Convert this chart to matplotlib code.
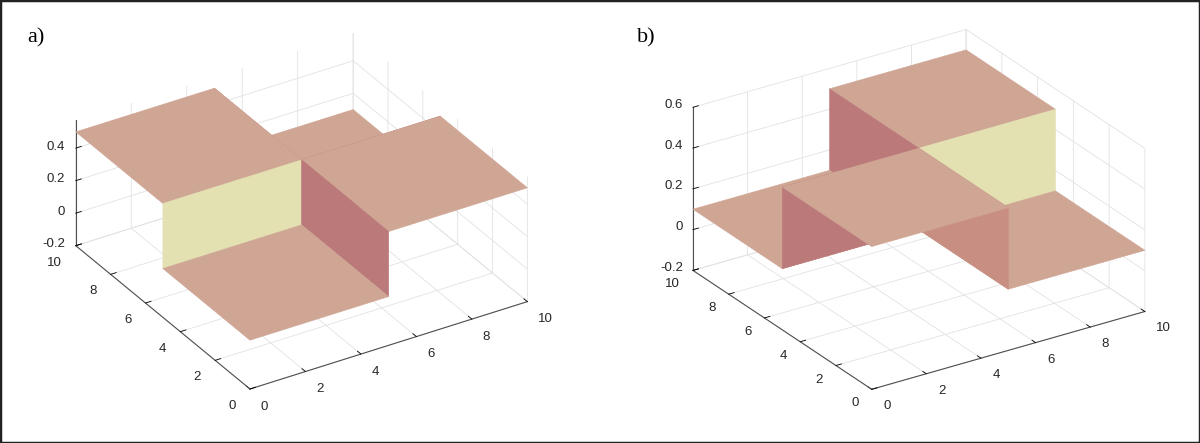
import numpy as np
import matplotlib
matplotlib.use('Agg')
import matplotlib.pyplot as plt
from matplotlib.colors import to_rgba
from matplotlib.patches import Rectangle
from mpl_toolkits.mplot3d import proj3d

# grid edges (5 is doubled so the steps become vertical walls)
x_edges = [0, 5, 5, 10]
y_edges = [0, 5, 5, 10]
# rows follow y_edges, columns follow x_edges
z_a = [[0.1, 0.1, 0.5, 0.5],
       [0.1, 0.1, 0.5, 0.5],
       [0.5, 0.5, 0.1, 0.1],
       [0.5, 0.5, 0.1, 0.1]]
z_b = [[0.5, 0.5, 0.1, 0.1],
       [0.5, 0.5, 0.1, 0.1],
       [0.1, 0.1, 0.5, 0.5],
       [0.1, 0.1, 0.5, 0.5]]
xy_ticks = [0, 2, 4, 6, 8, 10]
zticks_a = [-0.2, 0, 0.2, 0.4]
zticks_b = [-0.2, 0, 0.2, 0.4, 0.6]
zlim_a = (-0.2, 0.57)
zlim_b = (-0.2, 0.6)

FLAT = '#cfa594'
YELLOW = '#e3e0b1'
RED = '#bc797a'
DARK = '#c88e82'

W, H = 1200, 443
plt.rcParams['font.family'] = ['Liberation Sans', 'DejaVu Sans']
plt.rcParams['font.size'] = 9.5
plt.rcParams['grid.color'] = '#e2e2e2'
plt.rcParams['grid.linewidth'] = 0.6
plt.rcParams['xtick.major.width'] = 0.6
plt.rcParams['ytick.major.width'] = 0.6

fig = plt.figure(figsize=(W / 100, H / 100), dpi=100)


def face_colors(X, Y, Z):
    n, m = Z.shape
    fc = np.zeros((n, m, 4))
    for i in range(n - 1):
        for j in range(m - 1):
            dx = X[i, j + 1] - X[i, j]
            dy = Y[i + 1, j] - Y[i, j]
            if dx == 0 and dy == 0:
                c = (0, 0, 0, 0)
            elif dy == 0:
                rise = Z[i + 1, j:j + 2].mean() - Z[i, j:j + 2].mean()
                c = to_rgba(YELLOW if rise > 0 else RED)
            elif dx == 0:
                rise = Z[i:i + 2, j + 1].mean() - Z[i:i + 2, j].mean()
                c = to_rgba(RED if rise > 0 else DARK)
            else:
                c = to_rgba(FLAT)
            fc[i, j] = c
    return fc


def screen(ax, x, y, z):
    xs, ys, _ = proj3d.proj_transform(x, y, z, ax.get_proj())
    return np.array(ax.transData.transform((xs, ys)))


def fit(ax, aspect, target):
    # scale and move the box so its floor corners land on the target pixels
    zmin = ax.get_zlim()[0]
    t = [np.array([tx, H - ty]) for tx, ty in target]
    zoom = 1.0
    for _ in range(3):
        ax.set_box_aspect(aspect, zoom=zoom)
        fig.canvas.draw()
        o = screen(ax, 0, 0, zmin)
        px = screen(ax, 10, 0, zmin)
        py = screen(ax, 0, 10, zmin)
        cur = np.linalg.norm(px - o) + np.linalg.norm(py - o)
        want = np.linalg.norm(t[1] - t[0]) + np.linalg.norm(t[2] - t[0])
        zoom *= want / cur
    ax.set_box_aspect(aspect, zoom=zoom)
    fig.canvas.draw()
    o = screen(ax, 0, 0, zmin)
    shift = (t[0] - o) / np.array([W, H])
    pos = ax.get_position(original=True)
    ax.set_position([pos.x0 + shift[0], pos.y0 + shift[1], pos.width, pos.height])
    fig.canvas.draw()


def put(ax, pt, txt, off, ha):
    p = screen(ax, *pt)
    fig.text((p[0] + off[0]) / W, (p[1] - off[1]) / H, txt, ha=ha, va='center',
             fontsize=9.5, color='#262626')


def panel(rect, Zdata, zlim, zticks, elev, azim, aspect, target, label, lx, offs):
    ax = fig.add_axes(rect, projection='3d')
    ax.set_facecolor('none')
    X, Y = np.meshgrid(x_edges, y_edges)
    Z = np.array(Zdata)
    fc = face_colors(X, Y, Z)
    edge = [fc[i, j] for i in range(Z.shape[0] - 1) for j in range(Z.shape[1] - 1)]
    surf = ax.plot_surface(X, Y, Z, facecolors=fc, shade=False, linewidth=0.4,
                           antialiased=True)
    surf.set_edgecolor(edge)
    surf.set_clip_on(False)
    ax.set_proj_type('ortho')
    ax.view_init(elev=elev, azim=azim)
    ax.set_xlim(0, 10)
    ax.set_ylim(0, 10)
    ax.set_zlim(*zlim)
    ax.set_xticks(xy_ticks)
    ax.set_yticks(xy_ticks)
    ax.set_zticks(zticks)
    ax.set_xticklabels([''] * len(xy_ticks))
    ax.set_yticklabels([''] * len(xy_ticks))
    ax.set_zticklabels([''] * len(zticks))
    for axis in (ax.xaxis, ax.yaxis, ax.zaxis):
        axis.set_pane_color((1, 1, 1, 0))
        axis.pane.set_edgecolor('none')
        axis.line.set_color('#505050')
        axis.line.set_linewidth(0.8)
        axis._axinfo['tick']['inward_factor'] = 0.0
        axis._axinfo['tick']['outward_factor'] = 0.25
        axis._axinfo['tick']['color'] = '#505050'
    fit(ax, aspect, target)

    # tick labels placed like MATLAB does (fixed pixel offsets from each tick)
    z0 = zlim[0]
    for t in xy_ticks:
        put(ax, (t, 0, z0), str(t), offs['x'], 'left')
        put(ax, (0, t, z0), str(t), offs['y'], 'right')
    for v in zticks:
        put(ax, (0, 10, v), '0' if v == 0 else f'{v:g}', offs['z'], 'right')

    fig.text(lx / W, 1 - 38 / H, label, family='Liberation Serif', fontsize=16,
             va='center', ha='left')
    return ax


ax_a = panel([0.0, -0.5, 0.5, 2.0], z_a, zlim_a, zticks_a, 30.6, -121.75,
             (1, 1.015, 0.446), [(250, 389), (527.3, 301.7), (75.7, 245.7)], 'a)', 27,
             {'x': (10.5, 17.5), 'y': (-14, 17), 'z': (-10.5, -1.5)})
ax_b = panel([0.5, -0.5, 0.5, 2.0], z_b, zlim_b, zticks_b, 25.8, -123.2,
             (1, 1.0, 0.555), [(871.7, 389.3), (1145, 311.7), (693.3, 270)], 'b)', 637,
             {'x': (11.5, 17), 'y': (-13, 14), 'z': (-10, -2.5)})

fig.add_artist(Rectangle((0, 0), 1, 1, transform=fig.transFigure, fill=False,
                         edgecolor='#222222', linewidth=2.5))

fig.savefig('out.png', dpi=100)
